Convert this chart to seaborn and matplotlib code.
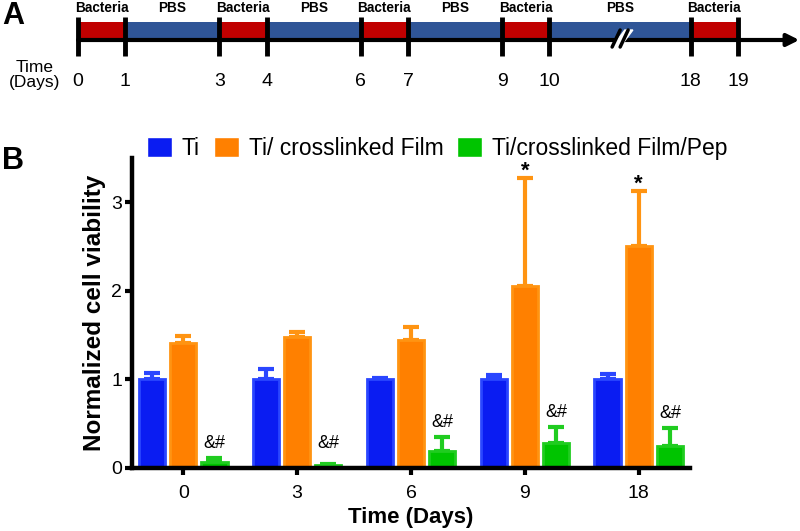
import numpy as np
import pandas as pd
import matplotlib
matplotlib.use("Agg")
import matplotlib.pyplot as plt
import seaborn as sns

# ---- data ----
days = ["0", "3", "6", "9", "18"]
groups = ["Ti", "Ti/ crosslinked Film", "Ti/crosslinked Film/Pep"]
ti_mean = [1.00, 1.00, 1.00, 1.00, 1.00]
ti_err = [0.07, 0.12, 0.02, 0.05, 0.06]
film_mean = [1.41, 1.48, 1.44, 2.05, 2.51]
film_err = [0.08, 0.05, 0.15, 1.22, 0.62]
pep_mean = [0.07, 0.03, 0.19, 0.28, 0.25]
pep_err = [0.04, 0.02, 0.16, 0.18, 0.20]
star_days = ["9", "18"]

# timeline schematic (panel A)
phase_labels = ["Bacteria", "PBS", "Bacteria", "PBS", "Bacteria", "PBS", "Bacteria", "PBS", "Bacteria"]
phase_start = [0, 1, 3, 4, 6, 7, 9, 10, 18]
phase_end = [1, 3, 4, 6, 7, 9, 10, 18, 19]
tick_days = [0, 1, 3, 4, 6, 7, 9, 10, 18, 19]

colors = ["#0a1cf2", "#ff8000", "#00c400"]
edges = ["#2a46ff", "#ff9412", "#20cc20"]
phase_colors = {"Bacteria": "#c00000", "PBS": "#2f5597"}

sns.set_style("ticks")
plt.rcParams["font.family"] = ["Liberation Sans", "DejaVu Sans"]
plt.rcParams.update({"text.color": "black", "axes.labelcolor": "black",
                     "axes.edgecolor": "black", "xtick.color": "black",
                     "ytick.color": "black"})

fig = plt.figure(figsize=(8, 5.31), dpi=100)

# ================================
# A. timeline
# ================================
def pos(d):
    # axis is broken between day 10 and day 18
    return d if d <= 10 else d - 5

ax_t = fig.add_axes([0, 431 / 531, 1, 100 / 531])
ax_t.set_xlim(-78 * 14 / 660, 14 + 62 * 14 / 660)
ax_t.set_ylim(100, 0)
ax_t.axis("off")

narrow = ["Liberation Sans Narrow", "Liberation Sans", "DejaVu Sans"]
for lab, s, e in zip(phase_labels, phase_start, phase_end):
    ax_t.barh(31, pos(e) - pos(s), left=pos(s), height=18,
              color=phase_colors[lab], edgecolor="none")
    ax_t.text((pos(s) + pos(e)) / 2, 8, lab, ha="center", va="center",
              fontsize=9.8, fontweight="bold", family=narrow)

ax_t.annotate("", xy=(15.3, 40), xytext=(0, 40),
              arrowprops=dict(arrowstyle="-|>", lw=3, color="black",
                              mutation_scale=18, shrinkA=0, shrinkB=0))
ax_t.vlines([pos(d) for d in tick_days], 17, 56, color="black", lw=3.5)
for d in tick_days:
    ax_t.text(pos(d), 82, str(d), ha="center", va="center", fontsize=14, family=narrow)
ax_t.text(-0.92, 75, "Time\n(Days)", ha="center", va="center", fontsize=12.5,
          family=narrow, linespacing=1.05)

# break marks
bx = (pos(10) + pos(18)) / 2 - 0.1
ax_t.fill([bx - 0.07, bx + 0.2, bx + 0.37, bx + 0.1], [47, 30, 30, 47], color="white", zorder=3)
ax_t.plot([bx - 0.07, bx + 0.1], [47, 30], color="black", lw=2.5, zorder=4)
ax_t.plot([bx + 0.1, bx + 0.27], [47, 30], color="black", lw=2.5, zorder=4)

fig.text(13 / 800, 1 - 16 / 531, "A", fontsize=22, fontweight="bold", ha="center", va="center")
fig.text(13 / 800, 1 - 161 / 531, "B", fontsize=22, fontweight="bold", ha="center", va="center")

# ================================
# B. bar chart
# ================================
df = pd.DataFrame({
    "Day": days * 3,
    "Group": [g for g in groups for _ in days],
    "Viability": ti_mean + film_mean + pep_mean,
})
errs = [ti_err, film_err, pep_err]
means = [ti_mean, film_mean, pep_mean]

ax = fig.add_axes([132 / 800, 63 / 531, 558 / 800, 310 / 531])
sns.barplot(data=df, x="Day", y="Viability", hue="Group", order=days,
            hue_order=groups, palette=colors, width=0.82, gap=0.15,
            saturation=1, errorbar=None, ax=ax, zorder=2)

bar_conts = list(ax.containers)
for i, cont in enumerate(bar_conts):
    xs = [b.get_x() + b.get_width() / 2 for b in cont]
    for b in cont:
        b.set_edgecolor(edges[i])
        b.set_linewidth(2)
    ax.errorbar(xs, means[i], yerr=[np.zeros(len(xs)), errs[i]], fmt="none",
                ecolor=edges[i], elinewidth=3, capsize=6, capthick=3, zorder=1)
    if i == 2:
        for x, m, e in zip(xs, means[i], errs[i]):
            ax.text(x, max(m + e, 0.11) + 0.07, "&#", ha="center", va="bottom", fontsize=13)
    if i == 1:
        for x, d, m, e in zip(xs, days, means[i], errs[i]):
            if d in star_days:
                ax.text(x, m + e - 0.04, "*", ha="center", va="bottom",
                        fontsize=16, fontweight="bold")

ax.set_xlim(-0.45, 4.45)
ax.set_ylim(0, 3.5)
ax.set_yticks([0, 1, 2, 3])
ax.set_xlabel("Time (Days)", fontsize=16, fontweight="bold", labelpad=4)
ax.set_ylabel("Normalized cell viability", fontsize=17.5, fontweight="bold", labelpad=4)
ax.tick_params(axis="both", labelsize=14, width=3, length=5, pad=2)
ax.tick_params(axis="x", pad=7)
sns.despine(ax=ax)
for s in ["left", "bottom"]:
    ax.spines[s].set_linewidth(3.2)

ax.legend(loc="lower left", bbox_to_anchor=(0.01, 0.965), ncol=3, frameon=False,
          fontsize=16.5, handlelength=1.1, handleheight=1.0, handletextpad=0.43,
          columnspacing=0.6, borderaxespad=0)

fig.savefig("out.png", dpi=100)
